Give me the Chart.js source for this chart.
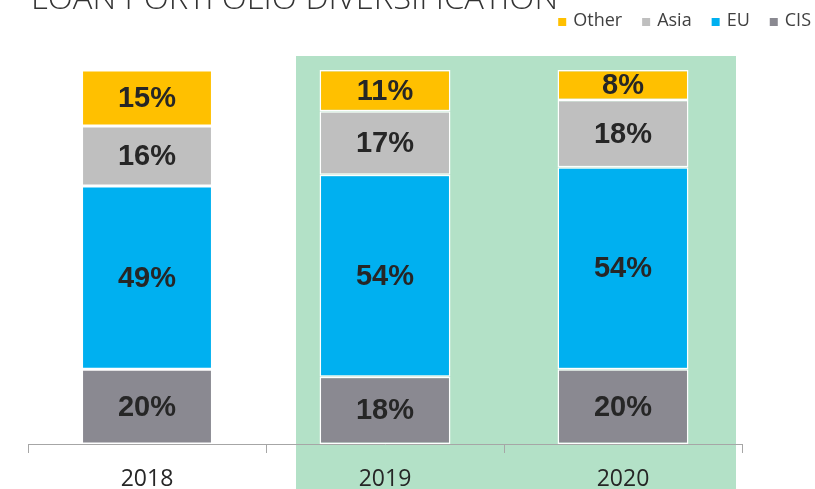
<!DOCTYPE html>
<html>
<head>
<meta charset="utf-8">
<script src="https://cdn.jsdelivr.net/npm/chart.js@4.4.0/dist/chart.umd.min.js"></script>
<style>
  html, body { margin: 0; padding: 0; background: #fff; }
  #wrap { width: 815px; height: 489px; }
</style>
</head>
<body>
<div id="wrap"><canvas id="chart" width="815" height="489"></canvas></div>
<script>
(function() {
  'use strict';

  var title = 'LOAN PORTFOLIO DIVERSIFICATION';
  var years = ['2018', '2019', '2020'];
  var cis = [20, 18, 20];
  var eu = [49, 54, 54];
  var asia = [16, 17, 18];
  var other = [15, 11, 8];

  var colors = {
    CIS: '#8a8991',
    EU: '#00b0f0',
    Asia: '#bfbfbf',
    Other: '#ffc000'
  };

  function series(label, data) {
    return {
      label: label,
      data: data,
      backgroundColor: colors[label],
      borderColor: '#ffffff',
      borderWidth: 1.5,
      borderSkipped: false,
      barPercentage: 0.55,
      categoryPercentage: 1
    };
  }

  // green highlight behind 2019 and 2020
  var highlight = {
    id: 'highlight',
    beforeDraw: function(chart) {
      var ctx = chart.ctx;
      var x = chart.scales.x;
      var left = x.getPixelForValue(1) - 89;
      var right = x.getPixelForValue(2) + 113;
      ctx.save();
      ctx.fillStyle = '#b3e1c7';
      ctx.fillRect(left, 56, right - left, chart.height - 56);
      ctx.restore();
    }
  };

  var titleAndLegend = {
    id: 'titleAndLegend',
    afterDraw: function(chart) {
      var ctx = chart.ctx;
      ctx.save();
      // title, cut off by the top edge
      ctx.font = '300 32px "Open Sans", sans-serif';
      ctx.fillStyle = '#333333';
      ctx.textBaseline = 'alphabetic';
      var w = ctx.measureText(title).width;
      ctx.translate(31, 9);
      ctx.scale(527 / w, 1);
      ctx.fillText(title, 0, 0);
      ctx.restore();

      // legend, right aligned, top to bottom order of the stack
      ctx.save();
      ctx.font = '18px "Open Sans", sans-serif';
      ctx.textBaseline = 'middle';
      var items = chart.data.datasets.slice().reverse();
      var box = 8, gapText = 7, gapItem = 20;
      var total = 0;
      items.forEach(function(d, i) {
        total += box + gapText + ctx.measureText(d.label).width + (i < items.length - 1 ? gapItem : 0);
      });
      var cx = 811 - total;
      items.forEach(function(d) {
        ctx.fillStyle = d.backgroundColor;
        ctx.fillRect(cx, 18, box, box);
        cx += box + gapText;
        ctx.fillStyle = '#404040';
        ctx.fillText(d.label, cx, 21);
        cx += ctx.measureText(d.label).width + gapItem;
      });
      ctx.restore();
    }
  };

  var valueLabels = {
    id: 'valueLabels',
    afterDatasetsDraw: function(chart) {
      var ctx = chart.ctx;
      ctx.save();
      ctx.font = 'bold 29px "Liberation Sans", Arial, sans-serif';
      ctx.fillStyle = '#262626';
      ctx.textAlign = 'center';
      ctx.textBaseline = 'middle';
      chart.data.datasets.forEach(function(d, i) {
        chart.getDatasetMeta(i).data.forEach(function(bar, j) {
          var mid = (bar.y + bar.base) / 2;
          ctx.fillText(d.data[j] + '%', bar.x, mid + 1);
        });
      });
      ctx.restore();
    }
  };

  new Chart(document.getElementById('chart').getContext('2d'), {
    type: 'bar',
    data: {
      labels: years,
      datasets: [
        series('CIS', cis),
        series('EU', eu),
        series('Asia', asia),
        series('Other', other)
      ]
    },
    options: {
      responsive: false,
      animation: false,
      layout: { padding: { left: 28, right: 73, top: 70, bottom: 0 } },
      plugins: {
        legend: { display: false },
        tooltip: { enabled: false }
      },
      scales: {
        x: {
          stacked: true,
          offset: true,
          afterFit: function(scale) { scale.height = 45; },
          grid: {
            offset: true,
            drawOnChartArea: false,
            tickLength: 9,
            tickColor: '#a6a6a6',
            tickWidth: 1
          },
          border: { color: '#a6a6a6', width: 1 },
          ticks: {
            padding: 13,
            color: '#262626',
            font: { family: '"Open Sans", sans-serif', size: 23 }
          }
        },
        y: {
          stacked: true,
          display: false,
          min: 0,
          max: 100
        }
      }
    },
    plugins: [highlight, titleAndLegend, valueLabels]
  });
})();
</script>
</body>
</html>
